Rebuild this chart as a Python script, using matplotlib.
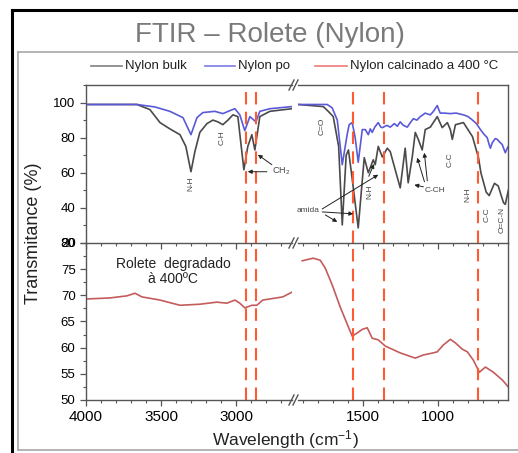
import matplotlib
matplotlib.use("Agg")
import matplotlib.pyplot as plt
from matplotlib.lines import Line2D
from matplotlib.ticker import MultipleLocator

plt.rcParams['font.family'] = ['Liberation Sans', 'DejaVu Sans']
plt.rcParams['mathtext.fontset'] = 'custom'
plt.rcParams['mathtext.rm'] = 'Liberation Sans'
plt.rcParams['mathtext.it'] = 'Liberation Sans:italic'

# ---- data (wavenumber cm-1, transmittance %) ----
bulk_wn_hi = [4000, 3661, 3575, 3508, 3442, 3375, 3336, 3302, 3276, 3243, 3196, 3156,
              3123, 3090, 3056, 3023, 2990, 2950, 2924, 2897, 2877, 2844, 2777, 2631]
bulk_t_hi = [98.9, 98.9, 96, 88.6, 85, 81.7, 75, 60.6, 72, 83, 88, 90,
             89, 87.4, 90, 93, 92, 61.7, 75, 81.7, 73, 92, 95, 96.5]

po_wn_hi = [4000, 3661, 3542, 3442, 3355, 3302, 3262, 3223, 3143, 3090, 3043, 3010,
            2977, 2944, 2910, 2870, 2844, 2777, 2631]
po_t_hi = [98.9, 98.9, 97.5, 95, 91.4, 81.7, 91.4, 94.3, 95, 93.7, 95.4, 96.5,
           93, 84, 92, 89, 95, 96.5, 97.7]

bulk_wn_lo = [1929, 1762, 1729, 1696, 1660, 1636, 1610, 1595, 1575, 1530, 1490, 1463,
              1430, 1417, 1397, 1370, 1337, 1317, 1297, 1251, 1218, 1198, 1171, 1151,
              1131, 1105, 1085, 1051, 1005, 972, 938, 918, 905, 884, 831, 771, 731,
              715, 699, 680, 660, 625, 600, 580, 565, 553, 533]
bulk_t_lo = [98.9, 97.7, 95, 92, 75, 30.3, 70, 73, 60, 28.6, 68.6, 60,
             67.4, 64.6, 75, 69, 74, 72, 65.7, 51.4, 74, 54.3, 69, 83,
             79, 73, 84.6, 86, 92, 85.7, 88.6, 84.6, 79, 87.4, 88.6, 80.6, 68.6,
             60, 55, 49, 47, 54, 52.5, 47, 43, 42, 50]

po_wn_lo = [1929, 1736, 1703, 1669, 1636, 1603, 1590, 1570, 1550, 1530, 1503, 1483,
            1463, 1450, 1437, 1420, 1397, 1380, 1370, 1340, 1317, 1290, 1270, 1251,
            1230, 1204, 1180, 1164, 1140, 1118, 1100, 1085, 1070, 1051, 1030, 1005,
            995, 985, 960, 918, 880, 831, 800, 771, 745, 718, 695, 673, 660, 652,
            640, 620, 606, 590, 573, 560, 553, 540, 533]
po_t_lo = [98.9, 98.9, 97, 90, 64.6, 82, 87.4, 88.6, 80, 66, 84.6, 84.6,
           81.7, 85, 83, 86, 88.6, 86, 85.7, 87, 86, 88, 86.5, 89,
           87, 86, 89, 90.8, 90, 92, 93, 94, 93.5, 93, 95, 98.3,
           96, 94, 94, 93.7, 94, 93, 92, 90, 88, 84.6, 82, 80, 76, 74,
           77, 79.5, 79, 77.5, 76, 73, 71.4, 74, 75]

calc_wn_hi = [4000, 3841, 3728, 3674, 3628, 3508, 3375, 3243, 3130, 3063, 3010, 2977,
              2944, 2897, 2864, 2824, 2691, 2631]
calc_t_hi = [69.3, 69.5, 69.9, 70.4, 69.7, 69.1, 68.1, 68.3, 68.7, 68.5, 69.1, 68.5,
             67.6, 68.1, 68.1, 69.1, 69.7, 70.6]

calc_wn_lo = [1902, 1829, 1782, 1749, 1703, 1650, 1596, 1570, 1537, 1503, 1470, 1437,
              1397, 1350, 1251, 1151, 1098, 1032, 1005, 965, 918, 884, 838, 805,
              765, 725, 685, 632, 572, 533]
calc_t_lo = [76.6, 77.1, 76.7, 75.2, 72, 67.8, 64, 62.2, 62.8, 63.5, 63.8, 61.8,
             61.5, 60.3, 59, 58, 58.6, 59, 59.2, 60.5, 61.6, 60.9, 59.7, 59.2,
             57.6, 55.3, 56.3, 55.3, 53.8, 52.5]

marker_wn = [2935, 2868, 1565, 1362, 736]

W, H = 518, 453
fig = plt.figure(figsize=(W / 100, H / 100), dpi=100)


def fx(px):
    return px / W


def fy(py):
    return 1 - py / H


def fig_line(x0, y0, x1, y1, **kw):
    fig.add_artist(Line2D([fx(x0), fx(x1)], [fy(y0), fy(y1)],
                          transform=fig.transFigure, **kw))


# slide frame
fig_line(12, 10, 518, 10, color='black', lw=2.2)
fig_line(12, 10, 12, 453, color='black', lw=2.2)
fig_line(18, 52, 518, 52, color='#a8a8a8', lw=1.2)
fig_line(18, 52, 18, 450, color='#a8a8a8', lw=1.2)
fig_line(18, 450, 518, 450, color='#a8a8a8', lw=1.2)

fig.text(fx(270), fy(35), "FTIR – Rolete (Nylon)", fontsize=20,
         color='#7a7a7a', ha='center', va='center')

# axes: [x0, x1] pixels, [y_top, y_bottom]
xl, xr = (86, 292), (298, 508)
yt, yb = (85, 243), (243, 400)


def make_ax(xs, ys):
    return fig.add_axes([fx(xs[0]), fy(ys[1]), fx(xs[1] - xs[0]), (ys[1] - ys[0]) / H])


ax_tl = make_ax(xl, yt)
ax_tr = make_ax(xr, yt)
ax_bl = make_ax(xl, yb)
ax_br = make_ax(xr, yb)

spine_c = '#555555'
for ax in (ax_tl, ax_tr, ax_bl, ax_br):
    for s in ax.spines.values():
        s.set_color(spine_c)
        s.set_linewidth(1.0)
    ax.patch.set_alpha(0)
    ax.xaxis.set_major_locator(MultipleLocator(500))
    ax.xaxis.set_minor_locator(MultipleLocator(100))
    ax.tick_params(axis='x', which='major', direction='out', length=4, width=0.9,
                   color=spine_c, labelsize=11, top=False)
    ax.tick_params(axis='x', which='minor', direction='out', length=2.5, width=0.8,
                   color=spine_c, top=False)
    ax.tick_params(axis='y', which='major', direction='out', length=4, width=0.9,
                   color=spine_c, labelsize=9.5, right=False)
    ax.tick_params(axis='y', which='minor', direction='out', length=2.5, width=0.8,
                   color=spine_c, right=False)

for ax in (ax_tl, ax_bl):
    ax.set_xlim(4000, 2630)
    ax.spines['right'].set_visible(False)
for ax in (ax_tr, ax_br):
    ax.set_xlim(1930, 535)
    ax.spines['left'].set_visible(False)
    ax.tick_params(axis='y', which='both', left=False, labelleft=False)
for ax in (ax_tl, ax_tr):
    ax.set_ylim(20, 110)
    ax.yaxis.set_major_locator(MultipleLocator(20))
    ax.yaxis.set_minor_locator(MultipleLocator(10))
    ax.tick_params(axis='x', which='both', labelbottom=False)
for ax in (ax_bl, ax_br):
    ax.set_ylim(50, 80)
    ax.yaxis.set_major_locator(MultipleLocator(5))
    ax.yaxis.set_minor_locator(MultipleLocator(2.5))
    ax.spines['top'].set_visible(False)

c_bulk, c_po, c_calc = '#4a4a4a', '#5a5ad8', '#c45c5c'
ax_tl.plot(bulk_wn_hi, bulk_t_hi, color=c_bulk, lw=1.2)
ax_tl.plot(po_wn_hi, po_t_hi, color=c_po, lw=1.2)
ax_tr.plot(bulk_wn_lo, bulk_t_lo, color=c_bulk, lw=1.2)
ax_tr.plot(po_wn_lo, po_t_lo, color=c_po, lw=1.2)
ax_bl.plot(calc_wn_hi, calc_t_hi, color=c_calc, lw=1.2)
ax_br.plot(calc_wn_lo, calc_t_lo, color=c_calc, lw=1.2)

# dashed marker lines
for wn in marker_wn:
    for top, bot in ((ax_tl, ax_bl), (ax_tr, ax_br)):
        lo, hi = sorted(top.get_xlim())
        if lo <= wn <= hi:
            top.axvline(wn, color='#ff5a32', lw=1.5, dashes=(6, 3.5))
            bot.axvline(wn, color='#ff5a32', lw=1.5, dashes=(6, 3.5))

# axis break marks
for yy in (85, 243, 400):
    for x0 in (289, 293):
        fig_line(x0, yy + 5, x0 + 5, yy - 5, color=spine_c, lw=1.0)

# band labels
lab = dict(fontsize=6, color='#444444', rotation=90, ha='center', va='center')
ax_tl.text(3302, 54, "N-H", **lab)
ax_tl.text(3096, 80, "C-H", **lab)
ax_tl.text(2764, 61.1, "CH$_2$", fontsize=6.5, color='#444444', ha='left', va='center')
ax_tr.text(1769, 86.3, "C=O", **lab)
ax_tr.text(1450, 49, "N-H", **lab)
ax_tr.text(918, 67.4, "C-C", **lab)
ax_tr.text(799, 47.4, "N-H", **lab)
ax_tr.text(673, 36, "C-C", **lab)
ax_tr.text(573, 33, "O=C-N", **lab)
ax_tr.text(1866, 38.3, "amida", fontsize=6, color='#444444', ha='center', va='center')
ax_tr.text(1018, 49.7, "C-CH", fontsize=6, color='#444444', ha='center', va='center')

arr = dict(arrowstyle='-|>', color='#222222', lw=0.7, mutation_scale=6,
           shrinkA=0, shrinkB=0)
ax_tl.annotate('', xy=(2924, 60.6), xytext=(2797, 60.6), arrowprops=arr)
ax_tl.annotate('', xy=(2857, 70.3), xytext=(2764, 64.6), arrowprops=arr)
ax_tr.annotate('', xy=(1397, 58.9), xytext=(1769, 39.4), arrowprops=arr, annotation_clip=False)
ax_tr.annotate('', xy=(1563, 36.6), xytext=(1769, 37.7), arrowprops=arr, annotation_clip=False)
ax_tr.annotate('', xy=(1669, 32), xytext=(1749, 36), arrowprops=arr, annotation_clip=False)
ax_tr.annotate('', xy=(1425, 65), xytext=(1460, 58), arrowprops=arr)
ax_tr.annotate('', xy=(1157, 53.1), xytext=(1097, 52), arrowprops=arr)
ax_tr.annotate('', xy=(1138, 68.6), xytext=(1090, 54.9), arrowprops=arr)
ax_tr.annotate('', xy=(1091, 71.4), xytext=(1071, 55.4), arrowprops=arr)

ax_bl.text(3420, 74.6, "Rolete  degradado\nà 400ºC", fontsize=10, color='#222222',
           ha='center', va='center', linespacing=1.1)

# legend
leg_y = 66
legend_items = [("Nylon bulk", '#808080', 91, 122),
                ("Nylon po", '#7c7ce6', 205, 235),
                ("Nylon calcinado a 400 °C", '#f07a7a', 315, 347)]
for name, col, x0, x1 in legend_items:
    fig_line(x0, leg_y, x1, leg_y, color=col, lw=1.2)
    fig.text(fx(x1 + 3), fy(leg_y), name, fontsize=9.5, color='#222222',
             ha='left', va='center')

fig.text(fx(285), fy(440), "Wavelength (cm$^{-1}$)", fontsize=12.5,
         ha='center', va='center', color='#222222')
fig.text(fx(33), fy(233), "Transmitance (%)", fontsize=13, rotation=90,
         ha='center', va='center', color='#222222')

fig.savefig("out.png", dpi=100)
